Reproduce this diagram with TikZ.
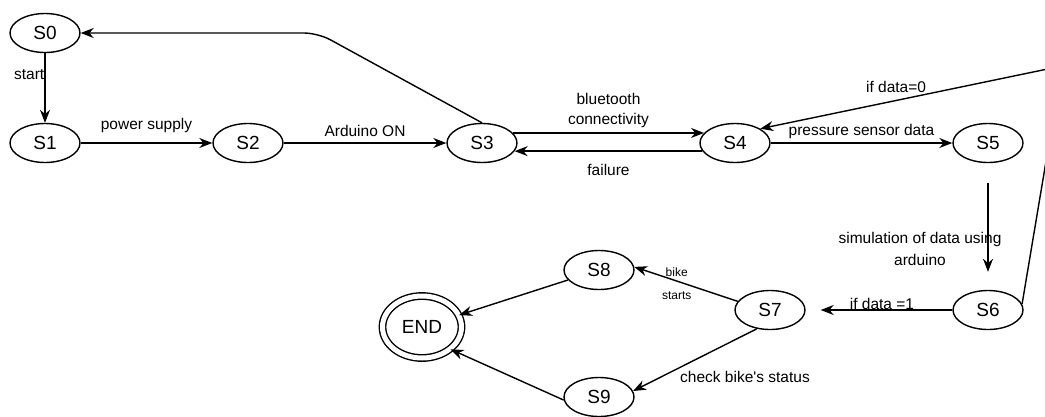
\documentclass[tikz,border=0pt]{standalone}
\usepackage{fontspec}
\setmainfont{Liberation Sans}[Ligatures=TeXOff]
\usetikzlibrary{arrows.meta, shapes.geometric}

\begin{document}
\begin{tikzpicture}[x=1pt, y=-1pt, line width=1.4pt, >={Stealth[length=13pt, width=10pt]},
        font=\fontsize{15.5}{18}\selectfont,
        main/.style = {draw, ellipse, minimum width=70pt, minimum height=39pt, inner sep=0pt, font=\fontsize{19}{22}\selectfont},
        final/.style = {main, double, double distance=5pt, minimum width=79pt, minimum height=62pt}]
    \clip (0,0) rectangle (1045,416);

    % states
    \node[main] (S0) at (45,33) {S0};
    \node[main] (S1) at (45,143) {S1};
    \node[main] (S2) at (248,143) {S2};
    \node[main] (S3) at (482,143) {S3};
    \node[main] (S4) at (735,143) {S4};
    \node[main] (S5) at (988,143) {S5};
    \node[main] (S6) at (988,310) {S6};
    \node[main] (S7) at (770,310) {S7};
    \node[main] (S8) at (599,270) {S8};
    \node[main] (S9) at (599,397) {S9};
    \node[final] (END) at (422,327) {END};

    \coordinate (turn) at (318,33);
    \coordinate (back) at (1062,66);

    % transitions
    \path[->] (S0) edge node[left, inner sep=0pt, pos=0.3] {start} (S1);
    \path[->] (S1) edge node[above=6pt] {power supply} (S2);
    \path[->] (S2) edge node[above=2pt] {Arduino ON} (S3);
    \draw[->, rounded corners=14pt] (S3.north) -- (turn) -- (S0);

    \path[->] (S3.18) edge node[above=1pt, align=center, font=\fontsize{15.5}{20}\selectfont] {bluetooth\\connectivity} (S4.162);
    \path[->] (S4.194) edge node[below=9pt] {failure} (S3.-14);
    \path[->] (S4) edge node[above] {pressure sensor data} (S5);

    \path[->] (S5) edge[shorten <=20pt, shorten >=18pt] node[pos=0.68, xshift=-68pt, align=center, font=\fontsize{15.5}{22}\selectfont] {simulation of data using\\arduino} (S6);
    \path[->] (S6) edge[shorten >=15pt] node[pos=0.48, yshift=6.5pt] {if data =1} (S7);
    \draw[->] (S6.10) -- (back) -- node[pos=0.55, above=4pt] {if data=0} (S4.north east);

    \path[->] (S7.165) edge node[pos=0.59, yshift=-3pt, align=center, font=\fontsize{12}{23}\selectfont] {bike\\starts} (S8.5);
    \path[->] (S7.235) edge node[pos=0.5, xshift=50pt, yshift=-17pt] {check bike's status} (S9.10);
    \path[->] (S8) edge (END);
    \path[->] (S9.185) edge (END.-38);
\end{tikzpicture}
\end{document}
